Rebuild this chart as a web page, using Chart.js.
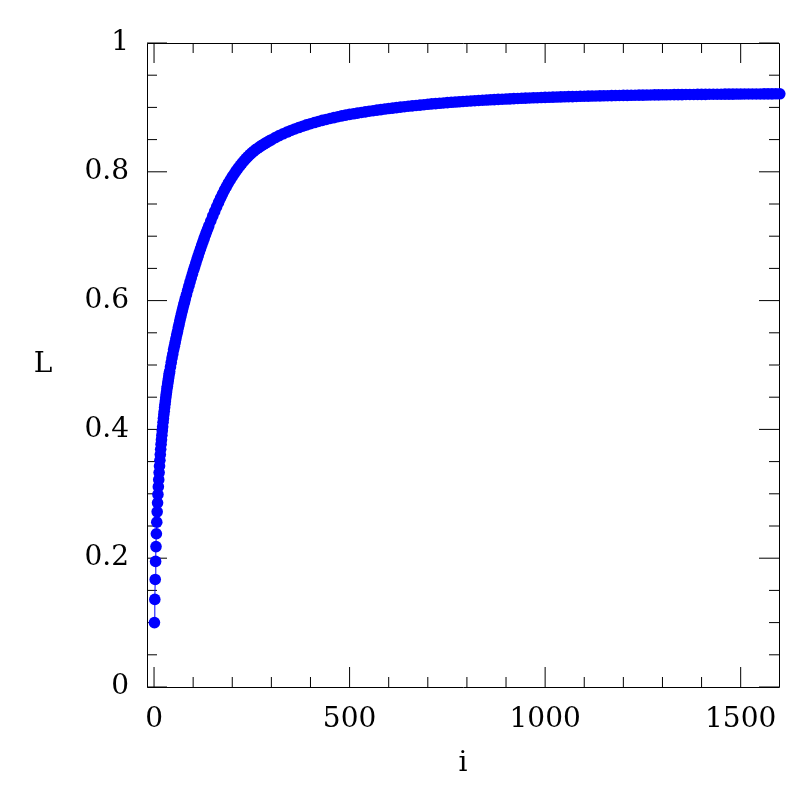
<!DOCTYPE html>
<html>
<head>
<meta charset="utf-8">
<script src="https://cdn.jsdelivr.net/npm/chart.js@4.4.1/dist/chart.umd.min.js"></script>
<style>
  html, body { margin: 0; padding: 0; background: #fff; }
</style>
</head>
<body>
<canvas id="grafico" width="797" height="797"></canvas>
<script>
// indices i, dense where the curve is steep
const iValues = [
    1, 2, 3, 4, 5, 6, 7, 8, 9, 10,
    11, 12, 13, 14, 15, 16, 17, 18, 19, 20,
    21, 22, 23, 24, 25, 26, 27, 28, 29, 30,
    31, 32, 33, 34, 35, 36, 37, 38, 39, 40,
    42, 44, 46, 48, 50, 52, 54, 56, 58, 60,
    62, 64, 66, 68, 70, 72, 74, 76, 78, 80,
    83, 86, 89, 92, 95, 98, 101, 104, 107, 110,
    113, 116, 119, 122, 125, 128, 131, 134, 137, 140,
    145, 150, 155, 160, 165, 170, 175, 180, 185, 190,
    195, 200, 205, 210, 215, 220, 225, 230, 235, 240,
    245, 250, 255, 260, 265, 270, 275, 280, 285, 290,
    295, 300,
    310, 320, 330, 340, 350, 360, 370, 380, 390, 400,
    410, 420, 430, 440, 450, 460, 470, 480, 490, 500,
    510, 520, 530, 540, 550, 560, 570, 580, 590, 600,
    610, 620, 630, 640, 650, 660, 670, 680, 690, 700,
    710, 720, 730, 740, 750, 760, 770, 780, 790, 800,
    810, 820, 830, 840, 850, 860, 870, 880, 890, 900,
    910, 920, 930, 940, 950, 960, 970, 980, 990, 1000,
    1010, 1020, 1030, 1040, 1050, 1060, 1070, 1080, 1090, 1100,
    1110, 1120, 1130, 1140, 1150, 1160, 1170, 1180, 1190, 1200,
    1210, 1220, 1230, 1240, 1250, 1260, 1270, 1280, 1290, 1300,
    1310, 1320, 1330, 1340, 1350, 1360, 1370, 1380, 1390, 1400,
    1410, 1420, 1430, 1440, 1450, 1460, 1470, 1480, 1490, 1500,
    1510, 1520, 1530, 1540, 1550, 1560, 1570, 1580, 1590, 1600
];

// L at each i
const lValues = [
    0.100, 0.136, 0.167, 0.195, 0.218, 0.238, 0.256, 0.272, 0.286, 0.299,
    0.311, 0.322, 0.333, 0.343, 0.352, 0.361, 0.369, 0.377, 0.384, 0.391,
    0.398, 0.404, 0.411, 0.417, 0.423, 0.428, 0.434, 0.439, 0.444, 0.449,
    0.454, 0.458, 0.463, 0.467, 0.471, 0.475, 0.479, 0.483, 0.487, 0.490,
    0.497, 0.504, 0.511, 0.517, 0.524, 0.529, 0.535, 0.541, 0.547, 0.552,
    0.558, 0.563, 0.569, 0.574, 0.579, 0.584, 0.589, 0.594, 0.598, 0.603,
    0.6095, 0.6160, 0.6224, 0.6287, 0.6349, 0.6410, 0.6470, 0.6529, 0.6587, 0.6644,
    0.6700, 0.6755, 0.6809, 0.6862, 0.6914, 0.6965, 0.7015, 0.7064, 0.7112, 0.7159,
    0.7236, 0.7311, 0.7384, 0.7455, 0.7524, 0.7591, 0.7654, 0.7714, 0.7771, 0.7825,
    0.7876, 0.7924, 0.7970, 0.8014, 0.8056, 0.8096, 0.8134, 0.8170, 0.8204, 0.8236,
    0.8266, 0.8294, 0.8320, 0.8344, 0.8366, 0.8387, 0.8407, 0.8426, 0.8445, 0.8463,
    0.8480, 0.8497,
    0.8530, 0.8561, 0.8590, 0.8617, 0.8642, 0.8665, 0.8687, 0.8708, 0.8728, 0.8747,
    0.8765, 0.8782, 0.8798, 0.8813, 0.8828, 0.8842, 0.8855, 0.8868, 0.8880, 0.8892,
    0.8901, 0.8911, 0.8921, 0.8930, 0.8940, 0.8949, 0.8957, 0.8966, 0.8974, 0.8982,
    0.8989, 0.8997, 0.9004, 0.9011, 0.9018, 0.9024, 0.9030, 0.9036, 0.9042, 0.9048,
    0.9054, 0.9059, 0.9064, 0.9069, 0.9074, 0.9079, 0.9083, 0.9087, 0.9092, 0.9096,
    0.9100, 0.9104, 0.9107, 0.9111, 0.9114, 0.9118, 0.9121, 0.9124, 0.9127, 0.9130,
    0.9133, 0.9136, 0.9139, 0.9141, 0.9144, 0.9146, 0.9149, 0.9151, 0.9153, 0.9155,
    0.9157, 0.9159, 0.9161, 0.9163, 0.9165, 0.9167, 0.9168, 0.9170, 0.9172, 0.9173,
    0.9175, 0.9176, 0.9178, 0.9179, 0.9180, 0.9182, 0.9183, 0.9184, 0.9185, 0.9186,
    0.9187, 0.9188, 0.9189, 0.9190, 0.9191, 0.9192, 0.9193, 0.9194, 0.9195, 0.9196,
    0.9196, 0.9197, 0.9198, 0.9199, 0.9199, 0.9200, 0.9201, 0.9201, 0.9202, 0.9202,
    0.9203, 0.9204, 0.9204, 0.9205, 0.9205, 0.9206, 0.9206, 0.9206, 0.9207, 0.9207,
    0.9208, 0.9208, 0.9209, 0.9209, 0.9209, 0.9210, 0.9210, 0.9210, 0.9211, 0.9211
];

const xMajorTicks = [0, 500, 1000, 1500];
const xMinorTicks = [100, 200, 300, 400, 600, 700, 800, 900, 1100, 1200, 1300, 1400];
const xTickLabels = ['0', '500', '1000', '1500'];
const yMajorTicks = [0, 0.2, 0.4, 0.6, 0.8, 1];
const yMinorTicks = [0.05, 0.1, 0.15, 0.25, 0.3, 0.35, 0.45, 0.5, 0.55, 0.65, 0.7, 0.75, 0.85, 0.9, 0.95];
const yTickLabels = ['0', '0.2', '0.4', '0.6', '0.8', '1'];
const yTitle = 'L';
const xTitle = 'i';

const fonte = { family: 'DejaVu Serif', size: 28 };

// frame plus inward ticks on all four sides, and the upright y title
const moldura = {
    id: 'moldura',
    beforeDatasetsDraw(chart) {
        const ctx = chart.ctx;
        const a = chart.chartArea;
        const sx = chart.scales.x, sy = chart.scales.y;
        ctx.save();
        ctx.strokeStyle = '#000';
        ctx.lineWidth = 1;
        ctx.beginPath();
        ctx.rect(a.left + 0.5, a.top + 0.5, a.right - a.left, a.bottom - a.top);
        function tx(v, len) {
            const p = sx.getPixelForValue(v);
            ctx.moveTo(p, a.bottom); ctx.lineTo(p, a.bottom - len);
            ctx.moveTo(p, a.top); ctx.lineTo(p, a.top + len);
        }
        function ty(v, len) {
            const p = sy.getPixelForValue(v);
            ctx.moveTo(a.left, p); ctx.lineTo(a.left + len, p);
            ctx.moveTo(a.right, p); ctx.lineTo(a.right - len, p);
        }
        xMajorTicks.forEach(v => tx(v, 20));
        xMinorTicks.forEach(v => tx(v, 10));
        yMajorTicks.forEach(v => ty(v, 20));
        yMinorTicks.forEach(v => ty(v, 10));
        ctx.stroke();

        ctx.fillStyle = '#000';
        ctx.font = fonte.size + 'px "' + fonte.family + '"';
        ctx.textAlign = 'center';
        ctx.textBaseline = 'middle';
        ctx.fillText(yTitle, 43, (a.top + a.bottom) / 2);
        ctx.restore();
    }
};

const ctx = document.getElementById('grafico').getContext('2d');
new Chart(ctx, {
    type: 'scatter',
    data: {
        datasets: [{
            data: iValues.map((v, k) => ({ x: v, y: lValues[k] })),
            showLine: true,
            borderColor: '#0000ff',
            borderWidth: 1,
            pointRadius: 5.8,
            pointBackgroundColor: '#0000ff',
            pointBorderWidth: 0,
            clip: false
        }]
    },
    options: {
        responsive: false,
        animation: false,
        events: [],
        layout: { padding: { top: 43, right: 18, left: 0, bottom: 0 } },
        plugins: { legend: { display: false }, tooltip: { enabled: false } },
        scales: {
            x: {
                type: 'linear',
                min: -18,
                max: 1598,
                afterBuildTicks: s => { s.ticks = xMajorTicks.map(v => ({ value: v })); },
                afterFit: s => { s.height = 110; },
                grid: { display: false, drawTicks: false, tickLength: 0 },
                border: { display: false },
                ticks: {
                    font: fonte,
                    color: '#000',
                    padding: 16,
                    maxRotation: 0,
                    callback: (v, idx) => xTickLabels[idx]
                },
                title: { display: true, text: xTitle, font: fonte, color: '#000', padding: { top: 0, bottom: 16 } }
            },
            y: {
                type: 'linear',
                min: 0,
                max: 1,
                afterBuildTicks: s => { s.ticks = yMajorTicks.map(v => ({ value: v })); },
                afterFit: s => { s.width = 147; },
                grid: { display: false, drawTicks: false, tickLength: 0 },
                border: { display: false },
                ticks: {
                    font: fonte,
                    color: '#000',
                    padding: 18,
                    callback: (v, idx) => yTickLabels[idx]
                },
                title: { display: false }
            }
        }
    },
    plugins: [moldura]
});
</script>
</body>
</html>
